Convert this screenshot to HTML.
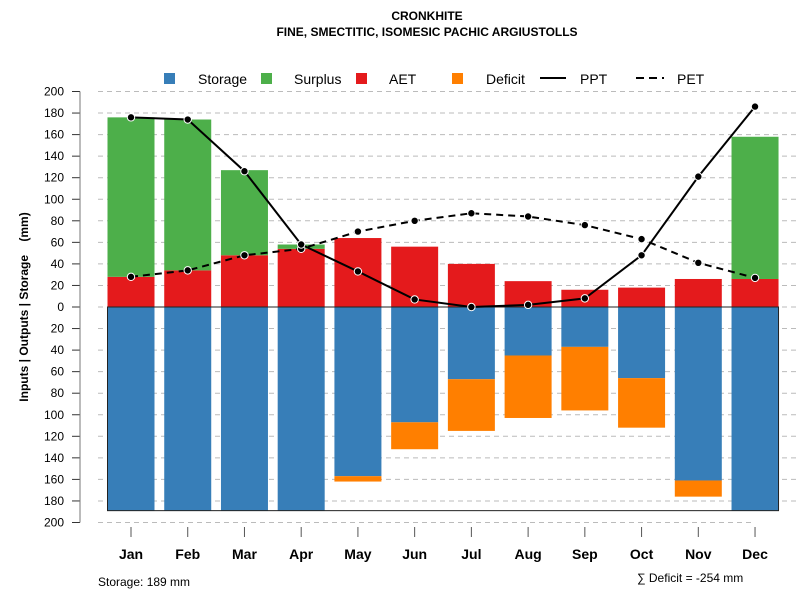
<!DOCTYPE html>
<html><head><meta charset="utf-8"><style>body{margin:0;background:#fff}svg{font-family:"Liberation Sans",sans-serif}</style></head>
<body>
<svg id="c" width="800" height="600"></svg>
<script>
const months=["Jan","Feb","Mar","Apr","May","Jun","Jul","Aug","Sep","Oct","Nov","Dec"];
const ppt=[176,174,126,58,33,7,0,2,8,48,121,186];
const pet=[28,34,48,54,70,80,87,84,76,63,41,27];
const aet=[28,34,48,54,64,56,40,24,16,18,26,26];
const surplus=[148,140,79,4,0,0,0,0,0,0,0,132];
const storage=[189,189,189,189,157,107,67,45,37,66,161,189];
const deficit=[0,0,0,0,5,25,48,58,59,46,15,0];
const yTicks=[200,180,160,140,120,100,80,60,40,20,0,-20,-40,-60,-80,-100,-120,-140,-160,-180,-200];
const maxStorage=189;
const NS="http://www.w3.org/2000/svg";
const svg=document.getElementById('c');
const y=v=>307-v*1.0775;
const x=i=>131+i*56.73;
const bw=47;
function mk(t,a,p){const e=document.createElementNS(NS,t);for(const k in a)e.setAttribute(k,a[k]);(p||svg).appendChild(e);return e;}
let t=mk('text',{x:427,y:20,'text-anchor':'middle','font-size':12,'font-weight':'bold'});t.textContent='CRONKHITE';


t=mk('text',{x:427,y:36,'text-anchor':'middle','font-size':12,'font-weight':'bold'});t.textContent='FINE, SMECTITIC, ISOMESIC PACHIC ARGIUSTOLLS';


yTicks.forEach(v=>{
 const g=mk('line',{x1:98,x2:(v<=-200?755:808),y1:y(v),y2:y(v),stroke:'#bbb','stroke-dasharray':'5,4'});
 
 
 const tk=mk('line',{x1:72,x2:80,y1:y(v),y2:y(v),stroke:'#333'});
 
 
 const l=mk('text',{x:64,y:y(v)+4,'text-anchor':'end','font-size':12});l.textContent=Math.abs(v);
 
 
});
let ax=mk('line',{x1:80,x2:80,y1:y(200),y2:y(-200),stroke:'#777','stroke-width':1});


t=mk('text',{transform:'translate(28,307) rotate(-90)','text-anchor':'middle','font-size':12,'font-weight':'bold'});t.textContent='Inputs | Outputs | Storage\u00a0\u00a0\u00a0\u00a0(mm)';


months.forEach((m,i)=>{
 const x0=x(i)-bw/2;
 let r=mk('rect',{x:x0,y:y(aet[i]),width:bw,height:y(0)-y(aet[i]),fill:'#e41a1c'});
 
 
 if(surplus[i]>0){r=mk('rect',{x:x0,y:y(aet[i]+surplus[i]),width:bw,height:y(aet[i])-y(aet[i]+surplus[i]),fill:'#4daf4a'});
 
 }
 r=mk('rect',{x:x0,y:y(0),width:bw,height:y(-storage[i])-y(0),fill:'#377eb8'});
 
 
 if(deficit[i]>0){r=mk('rect',{x:x0,y:y(-storage[i]),width:bw,height:y(-storage[i]-deficit[i])-y(-storage[i]),fill:'#ff7f00'});
 
 }
 const tk=mk('line',{x1:x(i),x2:x(i),y1:527,y2:537,stroke:'#555'});
 
 
 const l=mk('text',{x:x(i),y:559,'text-anchor':'middle','font-size':14,'font-weight':'bold'});l.textContent=m;
 
 
});
let box=mk('rect',{x:x(0)-bw/2,y:y(0),width:x(11)+bw/2-(x(0)-bw/2),height:y(-maxStorage)-y(0),fill:'none',stroke:'#222','stroke-width':1});


function series(arr,dash,name){
 const p=mk('polyline',{points:arr.map((v,i)=>x(i)+','+y(v)).join(' '),fill:'none',stroke:'#000','stroke-width':2,'stroke-dasharray':dash});
 
 
 arr.forEach((v,i)=>{const c=mk('circle',{cx:x(i),cy:y(v),r:3.7,fill:'#000',stroke:'#fff','stroke-width':1});
 
 });
}
series(pet,'7,5','pet');
series(ppt,'none','ppt');
const leg=[['Storage','#377eb8',164,198],['Surplus','#4daf4a',261,294],['AET','#e41a1c',356,389],['Deficit','#ff7f00',452,486]];
leg.forEach(d=>{
 const s=mk('rect',{x:d[2],y:73,width:11,height:11,fill:d[1]});
 
 
 const l=mk('text',{x:d[3],y:84,'font-size':14});l.textContent=d[0];
 
 
});
let ll=mk('line',{x1:540,x2:566,y1:78,y2:78,stroke:'#000','stroke-width':2});


t=mk('text',{x:580,y:84,'font-size':14});t.textContent='PPT';


ll=mk('line',{x1:636,x2:664,y1:78,y2:78,stroke:'#000','stroke-width':2,'stroke-dasharray':'8,5'});


t=mk('text',{x:677,y:84,'font-size':14});t.textContent='PET';


t=mk('text',{x:98,y:586,'font-size':12});t.textContent='Storage: '+maxStorage+' mm';


t=mk('text',{x:637,y:582,'font-size':12});t.textContent='∑ Deficit = -254 mm';


</script>
</body></html>
